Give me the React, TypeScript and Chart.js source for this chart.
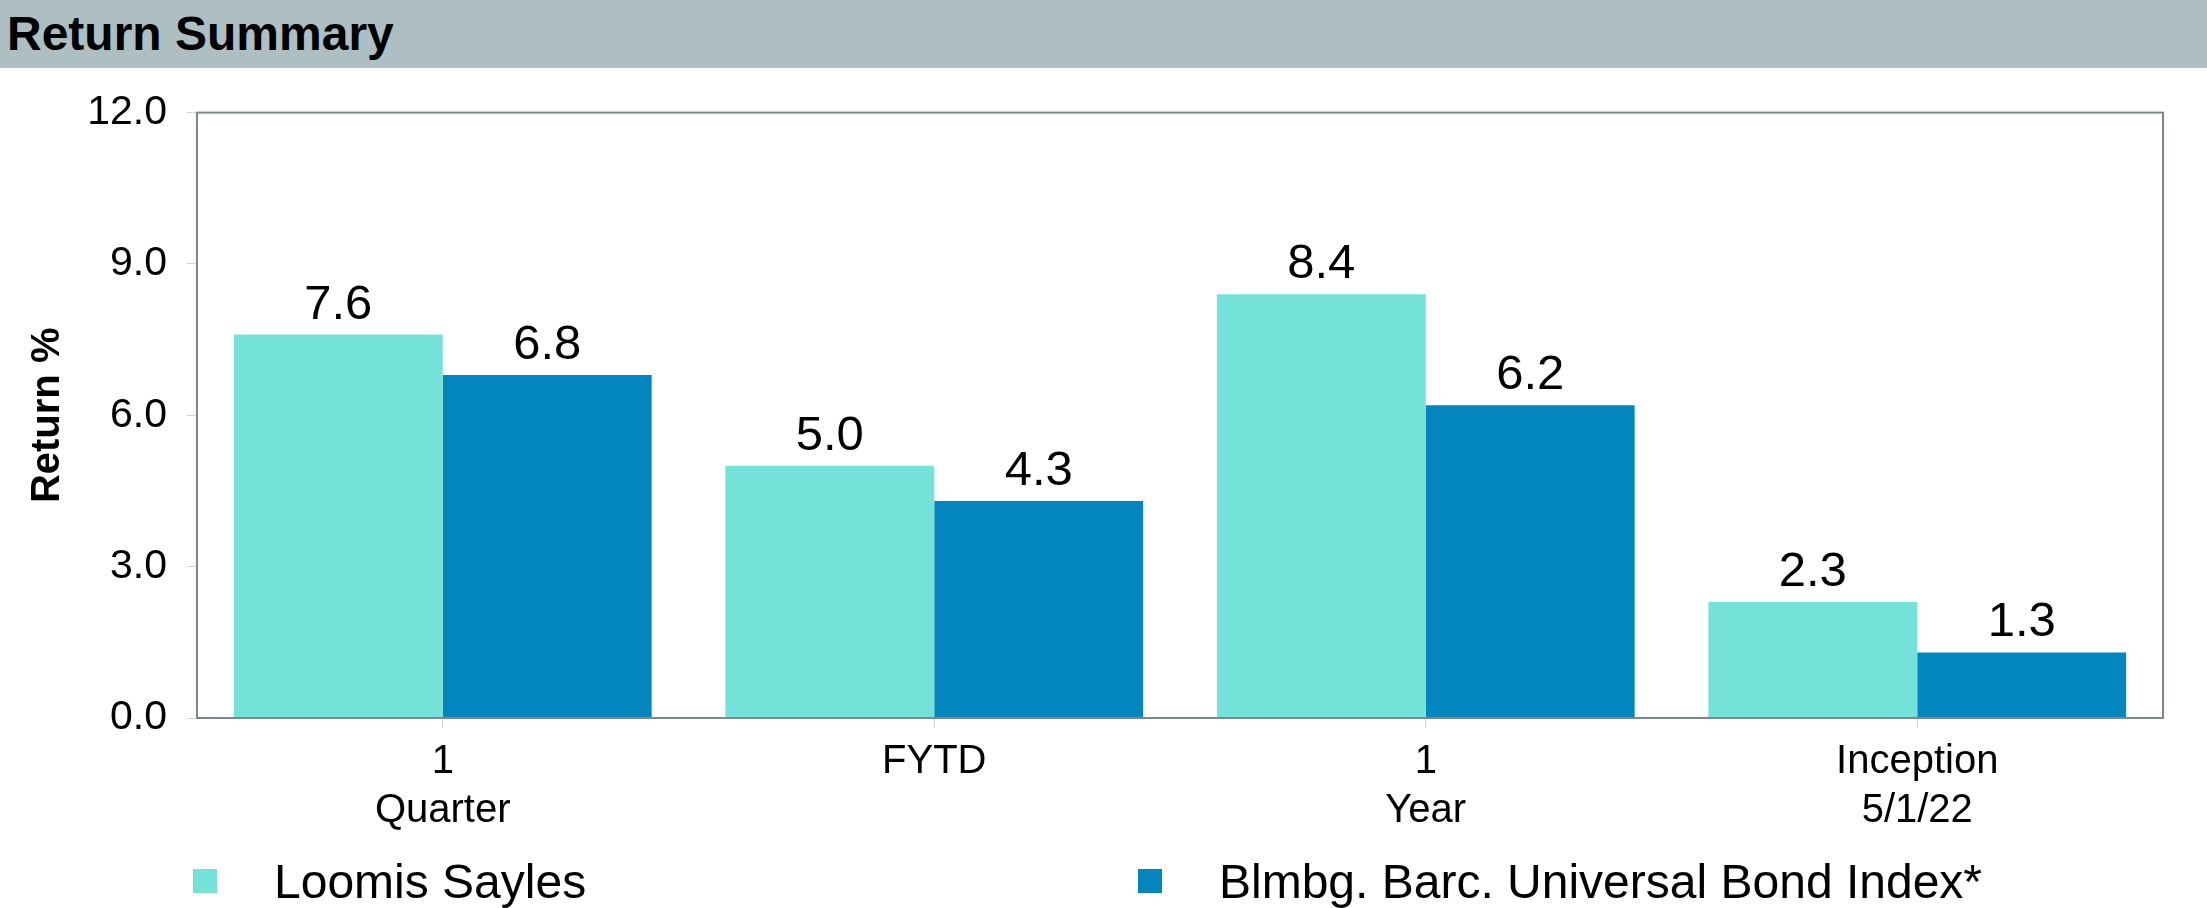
import React, { useEffect, useRef } from 'react';
import { Chart, registerables } from 'chart.js';

Chart.register(...registerables);

const categories: (string | string[])[] = [['1', 'Quarter'], 'FYTD', ['1', 'Year'], ['Inception', '5/1/22']];
const seriesNames = ['Loomis Sayles', 'Blmbg. Barc. Universal Bond Index*'];
const loomisValues = [7.6, 5.0, 8.4, 2.3];
const indexValues = [6.8, 4.3, 6.2, 1.3];
const yTickValues = [0, 3, 6, 9, 12];
const titleText = 'Return Summary';
const yAxisTitle = 'Return %';

const FONT = '"Liberation Sans", Arial, Helvetica, sans-serif';
const COLORS = ['#74e2d9', '#0385bd'];

const dataLabelPlugin = {
  id: 'dataLabels',
  afterDatasetsDraw(chart: any) {
    const ctx = chart.ctx;
    ctx.save();
    ctx.font = `49px ${FONT}`;
    ctx.fillStyle = '#000';
    ctx.textAlign = 'center';
    ctx.textBaseline = 'alphabetic';
    chart.data.datasets.forEach((ds: any, i: number) => {
      const meta = chart.getDatasetMeta(i);
      meta.data.forEach((bar: any, j: number) => {
        ctx.fillText(Number(ds.data[j]).toFixed(1), bar.x, bar.y - 16);
      });
    });
    ctx.restore();
  },
};

const framePlugin = {
  id: 'frame',
  afterDatasetsDraw(chart: any) {
    const { ctx, chartArea } = chart;
    ctx.save();
    ctx.strokeStyle = '#7a8891';
    ctx.lineWidth = 2;
    ctx.strokeRect(chartArea.left, chartArea.top, chartArea.right - chartArea.left, chartArea.bottom - chartArea.top);
    ctx.restore();
  },
};

const legendPlugin = {
  id: 'customLegend',
  afterDraw(chart: any, _args: any, opts: any) {
    const ctx = chart.ctx;
    ctx.save();
    ctx.font = `48px ${FONT}`;
    ctx.textBaseline = 'alphabetic';
    ctx.textAlign = 'left';
    chart.data.datasets.forEach((ds: any, i: number) => {
      const x = opts.xs[i];
      ctx.fillStyle = ds.backgroundColor;
      ctx.fillRect(x, opts.y - 12, 24, 24);
      ctx.fillStyle = '#000';
      ctx.fillText(ds.label, x + opts.textGap, opts.y + 17);
    });
    ctx.restore();
  },
};

export default function App() {
  const canvasRef = useRef<HTMLCanvasElement>(null);

  useEffect(() => {
    document.body.style.margin = '0';
    const canvas = canvasRef.current;
    if (!canvas) return;
    const chart = new Chart(canvas, {
      type: 'bar',
      data: {
        labels: categories as any,
        datasets: [
          { label: seriesNames[0], data: loomisValues, backgroundColor: COLORS[0], categoryPercentage: 0.85, barPercentage: 1.0 },
          { label: seriesNames[1], data: indexValues, backgroundColor: COLORS[1], categoryPercentage: 0.85, barPercentage: 1.0 },
        ],
      },
      options: {
        animation: false,
        responsive: false,
        devicePixelRatio: 1,
        layout: { padding: { left: 0, right: 44, top: 38, bottom: 70 } },
        plugins: {
          legend: { display: false },
          tooltip: { enabled: false },
          customLegend: { xs: [193, 1138], y: 813, textGap: 81 },
        } as any,
        scales: {
          x: {
            grid: { offset: false, drawOnChartArea: false, drawTicks: true, tickLength: 10, color: '#d4d4d4' },
            border: { display: false },
            ticks: {
              color: '#000',
              font: { family: FONT, size: 40, lineHeight: 1.22 },
              padding: 10,
              maxRotation: 0,
              autoSkip: false,
            },
            afterFit: (s: any) => { s.height = 120; },
          },
          y: {
            min: 0,
            max: 12,
            grid: { drawOnChartArea: false, drawTicks: true, tickLength: 10, color: '#d4d4d4' },
            border: { display: false },
            afterBuildTicks: (s: any) => { s.ticks = yTickValues.map((v) => ({ value: v })); },
            ticks: {
              color: '#000',
              font: { family: FONT, size: 41 },
              padding: 20,
              callback: (v: any) => Number(v).toFixed(1),
            },
            title: {
              display: true,
              text: yAxisTitle,
              color: '#000',
              font: { family: FONT, size: 40, weight: 'bold' },
              padding: { top: 24, bottom: 0 },
            },
            afterFit: (s: any) => { s.width = 197; },
          },
        },
      },
      plugins: [dataLabelPlugin, framePlugin, legendPlugin],
    });
    return () => chart.destroy();
  }, []);

  return (
    <div style={{ position: 'relative', width: 2207, height: 908, background: '#fff' }}>
      <div
        style={{
          height: 68,
          background: '#adbfc3',
          fontFamily: FONT,
          fontWeight: 'bold',
          fontSize: 48,
          lineHeight: '68px',
          paddingLeft: 7,
          color: '#000',
          boxSizing: 'border-box',
        }}
      >
        {titleText}
      </div>
      <canvas ref={canvasRef} width={2207} height={840} style={{ display: 'block' }} />
    </div>
  );
}
